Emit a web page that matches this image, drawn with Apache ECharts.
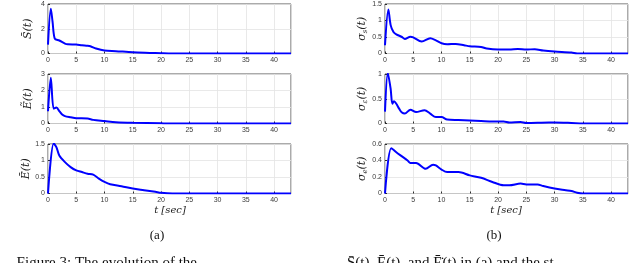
<!DOCTYPE html>
<html><head><meta charset="utf-8">
<script src="https://cdn.jsdelivr.net/npm/echarts@6/dist/echarts.min.js"></script>
<style>html,body{margin:0;padding:0;background:#fff}#c{width:640px;height:263px}</style>
</head><body><div id="c"></div>
<script>
// ---- data ----
var tS = [0,0.5,0.8,1.2,2,3,3.5,5,6,7,7.5,8.5,10,12,15,18,20,22,43];
var vS = [0.72,3.62,2.6,1.2,1.05,0.8,0.74,0.72,0.66,0.62,0.58,0.4,0.24,0.19,0.1,0.05,0.02,0,0];
var tEt = [0,0.5,1,1.5,2,2.5,3,4,5,7,8,10,12,15,20,22,43];
var vEt = [0.74,2.78,0.9,0.97,0.75,0.55,0.45,0.38,0.32,0.3,0.22,0.15,0.08,0.04,0.01,0,0];
var tEd = [0,1,1.5,2,3,4,5,6,7,8,9,10,11,13,15,17,19,20,22,43];
var vEd = [0,1.52,1.4,1.15,0.95,0.8,0.7,0.65,0.6,0.57,0.45,0.35,0.28,0.22,0.15,0.1,0.05,0.02,0,0];
var tSs = [0,0.6,1,1.5,2,3,3.5,4.5,5,6.5,8,9,10,11,12.5,14,15,17,18,20,22,23.5,25,26.5,28,30,33,34,43];
var vSs = [0.25,1.33,0.86,0.65,0.58,0.5,0.44,0.51,0.49,0.36,0.46,0.4,0.31,0.28,0.29,0.25,0.22,0.2,0.15,0.12,0.12,0.14,0.12,0.13,0.09,0.06,0.03,0,0];
var tSe = [0,0.5,1,1.3,1.6,2,2.5,3,3.5,4.5,5.5,7,8,9,10,11,13,15,17,19,21,22,24,25,29,30,33,35,43];
var vSe = [0.24,1.02,0.7,0.4,0.45,0.4,0.3,0.22,0.2,0.28,0.23,0.27,0.2,0.13,0.13,0.08,0.07,0.06,0.05,0.04,0.04,0.02,0.03,0.01,0.02,0.02,0.01,0,0];
var tSk = [0,1.1,2,3,4,4.5,5.5,7.2,8.5,9,10,11,13,15,17,19,21,22,24,25,27,28,30,32,33,34,35,43];
var vSk = [0,0.55,0.5,0.45,0.4,0.37,0.37,0.3,0.35,0.34,0.29,0.26,0.26,0.22,0.19,0.14,0.1,0.1,0.12,0.11,0.11,0.09,0.06,0.04,0.03,0.01,0,0];
var yMax = [4,3,1.5,1.5,1,0.6];
var yStep = [2,1,0.5,0.5,0.5,0.2];
var yNames = ['S̄(t)','Ẽ(t)','Ē̇(t)','σ{s|s}(t)','σ{s|ε}(t)','σ{s|e}(t)'];
var xMax = 43, xStep = 5;

var sets = [[tS,vS],[tEt,vEt],[tEd,vEd],[tSs,vSs],[tSe,vSe],[tSk,vSk]];
var lefts = [48,48,48,385,385,385];
var tops = [4,74,144,4,74,144];
var gaps = [14,14,15,14,14,14];
var grids=[],xAxes=[],yAxes=[],series=[];
for (var i=0;i<6;i++){
  grids.push({left:lefts[i],top:tops[i],width:243,height:49.5,show:true,borderColor:'#2b2b2b',borderWidth:0.8,backgroundColor:'#fff'});
  xAxes.push({type:'value',gridIndex:i,min:0,max:xMax,interval:xStep,
    axisLine:{show:false},axisTick:{inside:true,length:2,lineStyle:{color:'#2b2b2b'}},
    axisLabel:{fontSize:7,color:'#3a3a3a',margin:3,showMaxLabel:false,fontFamily:'Liberation Sans'},
    splitLine:{show:true,lineStyle:{color:'#e3e3e3',width:0.8}}});
  yAxes.push({type:'value',gridIndex:i,min:0,max:yMax[i],interval:yStep[i],
    axisLine:{show:false},axisTick:{inside:true,length:2,lineStyle:{color:'#2b2b2b'}},
    axisLabel:{fontSize:7,color:'#3a3a3a',margin:3,fontFamily:'Liberation Sans'},
    splitLine:{show:true,lineStyle:{color:'#e3e3e3',width:0.8}},
    name:yNames[i],nameLocation:'middle',nameRotate:90,nameGap:gaps[i],
    nameTextStyle:{fontSize:11,fontFamily:'DejaVu Serif',fontStyle:'italic',color:'#222',
      rich:{s:{fontSize:7,fontFamily:'DejaVu Serif',fontStyle:'italic',color:'#222',padding:[6,0,0,0]}}}});
  var d=[]; for (var k=0;k<sets[i][0].length;k++) d.push([sets[i][0][k],sets[i][1][k]]);
  series.push({type:'line',xAxisIndex:i,yAxisIndex:i,data:d,showSymbol:false,smooth:0.3,
    lineStyle:{color:'#0000ff',width:2},animation:false});
}
var chart = echarts.init(document.getElementById('c'),null,{renderer:'canvas'});
chart.setOption({animation:false,grid:grids,xAxis:xAxes,yAxis:yAxes,series:series,
  graphic:[
    {type:'text',x:170,y:205,style:{text:'t [sec]',font:'italic 10px "DejaVu Serif"',fill:'#222',align:'center'}},
    {type:'text',x:506,y:205,style:{text:'t [sec]',font:'italic 10px "DejaVu Serif"',fill:'#222',align:'center'}},
    {type:'text',x:157,y:229,style:{text:'(a)',font:'13px "Liberation Serif"',fill:'#111',align:'center'}},
    {type:'text',x:494,y:229,style:{text:'(b)',font:'13px "Liberation Serif"',fill:'#111',align:'center'}},
    {type:'text',x:197,y:256,style:{text:'Figure 3: The evolution of the',font:'15px "Liberation Serif"',fill:'#111',align:'right'}},
    {type:'text',x:347,y:256,style:{text:'S̄(t), Ē(t), and Ē̇(t) in (a) and the st',font:'15px "Liberation Serif"',fill:'#111',align:'left'}}
  ]});
</script></body></html>
